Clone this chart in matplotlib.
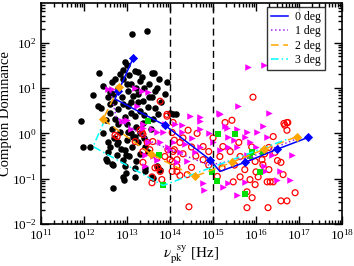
import numpy as np
import matplotlib
matplotlib.use('Agg')
import matplotlib.pyplot as plt
from matplotlib.ticker import LogLocator, NullFormatter

# values, stored as log10(nu) and log10(CD)
black_lx = [13.11, 13.46, 12.35, 12.95, 13.0, 13.19, 13.26, 13.63, 12.72, 12.84, 12.65, 12.44, 13.93,
            12.6, 12.67, 13.0, 13.02, 12.88, 13.14, 13.26, 13.65, 13.58, 13.37, 13.58, 11.93, 12.33,
            12.6, 12.79, 13.02, 13.26, 13.49, 13.72, 12.72, 12.95, 13.19, 13.37, 13.6, 12.65, 12.84,
            13.02, 13.19, 12.56, 12.79, 12.95, 13.12, 13.26, 13.42, 13.49, 12.77, 12.91, 12.56, 12.53,
            12.67, 12.95, 13.19, 13.42, 12.91, 13.58, 12.14, 14.07, 14.0, 14.13, 11.98, 12.51, 12.65,
            12.67, 12.98, 12.93, 13.19, 13.42, 13.6, 12.98, 12.77, 13.14, 13.09, 13.77, 13.7,
            12.9, 13.1, 13.2, 13.3, 13.4, 13.5, 12.8, 12.7, 12.9, 13.1, 13.3, 13.4, 13.5, 12.6, 12.8,
            13.0, 13.2, 13.1, 12.5, 12.45, 12.7, 13.0, 13.3, 13.4, 13.55, 12.6, 12.85, 13.05, 13.3,
            13.2, 12.4, 12.55, 13.7, 13.8, 13.65, 12.9, 13.05, 12.2, 13.35, 13.75, 13.88]
black_ly = [2.2, 2.27, 1.33, 1.58, 1.5, 1.38, 1.36, 1.33, 1.2, 1.31, 1.13, 1.04, 1.13,
            0.91, 0.87, 1.09, 0.93, 0.8, 0.82, 0.87, 0.93, 0.8, 0.71, 1.33, 0.27, 0.6,
            0.64, 0.53, 0.6, 0.69, 0.58, 0.42, 0.31, 0.36, 0.38, 0.24, 0.31, 0.09, 0.02,
            0.04, -0.07, -0.18, -0.2, -0.36, -0.29, -0.2, -0.29, -0.4, -0.47, -0.58, -0.42, -0.62,
            -0.69, -0.73, -0.76, -0.84, -0.96, -0.96, -0.31, 0.42, 0.45, 0.42, -0.31, -0.56, -0.67,
            -1.2, -0.87, -1.02, -0.96, -0.76, -0.98, -0.47, -0.24, -0.09, 0.0, -0.8, -0.73,
            1.2, 1.1, 1.0, 1.15, 1.0, 1.1, 1.0, 0.7, 0.65, 0.7, 0.5, 0.4, 0.8, 0.45, 0.2,
            0.2, 0.15, 0.45, 0.3, 0.0, -0.1, -0.15, 0.0, -0.1, 0.1, -0.3, -0.35, -0.5, -0.45,
            -0.6, 0.55, 0.8, 1.0, 0.7, 0.55, 1.4, 1.3, 0.85, 1.25, 1.2, 0.88]

red_lx = [15.93, 15.44, 14.07, 14.42, 14.63, 16.72, 16.67, 16.72, 16.4, 13.77, 13.93, 13.3, 12.72,
          13.35, 12.77, 13.37, 13.19, 13.47, 13.6, 13.37, 13.7, 13.88, 13.65, 13.77, 14.05, 13.95,
          14.07, 14.16, 14.05, 13.58, 14.05, 14.23, 14.0, 14.16, 14.4, 14.77, 14.77, 15.16, 15.23,
          15.28, 15.63, 15.74, 15.63, 15.86, 15.98, 16.05, 16.26, 16.16, 15.98, 15.47, 15.21, 14.44,
          15.79, 16.28, 16.58, 16.72, 16.91, 15.79, 15.91, 16.33, 16.65, 16.74, 16.3, 16.58, 16.44,
          16.3, 16.63, 16.4, 16.14, 13.53, 13.72, 13.81, 13.93, 14.1, 14.16, 14.23, 13.58, 13.37,
          14.3, 14.5, 14.6, 14.9, 15.0, 15.4, 15.6, 15.9, 16.0, 15.5, 14.3, 14.5, 14.1, 15.1, 16.5,
          16.2, 14.9]
red_ly = [0.8, 0.29, 0.24, 0.07, 0.0, 0.24, 0.18, 0.07, -0.07, 0.71, 0.42, 0.07, -0.04,
          0.02, -0.07, -0.02, -0.18, -0.2, -0.18, -0.4, -0.53, -0.51, -0.76, -0.84, -0.62, -0.36,
          -0.4, -0.58, -0.84, -0.96, 0.02, -0.2, -0.58, -0.84, -0.91, -0.29, -0.58, -0.51, -0.29,
          0.24, -0.51, -0.8, -0.96, -1.02, -1.13, -0.96, -1.07, -0.69, -0.62, -1.07, -0.76, -1.62,
          -1.64, -1.64, -1.49, -1.49, -1.31, -1.29, -1.42, -1.07, 0.22, 0.24, -0.31, -0.64, -0.42,
          -0.8, -0.91, -1.07, -0.58, -0.36, -0.76, -1.02, 0.38, -0.36, -0.73, -0.93, -1.09, -0.64,
          -0.1, -0.3, -0.5, -0.4, -0.1, -0.4, -0.2, -0.3, -0.85, -0.7, -0.45, -0.75, -0.15, -0.95,
          -0.6, -0.45, -0.7]

mag_lx = [15.81, 16.19, 15.58, 16.3, 15.14, 14.7, 14.28, 15.33, 15.79, 13.19, 13.35, 13.49, 12.95,
          13.23, 13.37, 13.58, 13.7, 13.84, 13.88, 13.42, 13.6, 13.42, 13.95, 14.12, 14.28, 14.47,
          14.7, 14.7, 15.16, 15.28, 15.35, 15.56, 15.74, 15.86, 16.02, 16.16, 16.26, 15.16, 15.35,
          15.56, 15.79, 14.07, 14.35, 14.23, 14.58, 14.7, 14.16, 14.77, 15.23, 15.74, 14.79, 15.35,
          16.37, 16.19, 15.56, 16.84, 16.79, 16.56, 16.49, 16.21, 12.88, 13.37, 13.49, 13.77, 13.7,
          14.0, 12.55, 12.65, 13.0, 13.1, 14.9, 15.0, 14.5, 15.5, 16.0, 14.4, 15.9]
mag_ly = [1.47, 1.51, 0.6, 0.44, 0.44, 0.36, 0.18, 0.13, 0.04, 1.0, 0.93, 0.91, 0.27,
          0.6, 0.2, 0.09, 0.02, 0.02, 0.2, -0.47, -0.51, -0.73, -0.31, 0.2, 0.02, 0.38,
          0.27, 0.09, 0.42, 0.16, -0.07, 0.09, -0.07, -0.2, 0.02, 0.16, -0.09, -0.36, -0.29,
          -0.31, -0.47, -0.2, -0.24, -0.42, -0.4, -0.29, -0.64, -1.09, -1.18, -1.07, -1.24, -1.09,
          -0.47, -0.73, -1.36, -0.47, -1.04, -0.84, -1.02, -0.84, 0.27, 0.13, -0.2, -0.18, -0.58,
          -0.36, 0.98, 0.98, 0.3, 0.1, 0.0, -0.2, -0.1, -0.15, -0.3, -0.6, -0.55]

green_lx = [13.84, 13.74, 13.49, 15.12, 15.51, 14.98, 15.09, 16.09, 15.91, 16.16, 15.74, 15.86]
green_ly = [-1.15, -0.47, 0.27, -0.02, -0.02, -0.86, -1.06, -0.86, -0.42, -0.42, -1.33, -0.51]

# model tracks
deg0_lx = [13.14, 12.72, 13.88, 14.93, 15.16, 15.74, 16.49, 17.21]
deg0_ly = [1.66, 0.76, 0.18, -0.58, -0.84, -0.64, -0.35, -0.09]
deg0_mark_lx = [13.14, 12.8, 13.88, 14.93, 15.74, 16.49, 17.21]
deg0_mark_ly = [1.66, 0.93, 0.18, -0.58, -0.64, -0.35, -0.09]

deg1_lx = [12.6, 12.75, 13.6, 14.9, 15.8, 16.6, 17.0]
deg1_ly = [1.0, 0.35, -0.2, -0.7, -0.55, -0.25, -0.1]

deg2_lx = [12.81, 12.44, 13.56, 14.58, 15.44, 16.19, 16.95]
deg2_ly = [1.02, 0.31, -0.46, -0.95, -0.64, -0.35, -0.07]

deg3_lx = [12.49, 12.21, 13.84, 16.72]
deg3_ly = [0.31, -0.29, -1.15, -0.13]

x_ticks = [1e11, 1e12, 1e13, 1e14, 1e15, 1e16, 1e17, 1e18]
y_ticks = [1e-2, 1e-1, 1e0, 1e1, 1e2]
vlines = [1e14, 1e15]


def p(v):
    return np.power(10.0, np.array(v))


plt.rcParams['font.family'] = ['Liberation Serif', 'DejaVu Serif']
plt.rcParams['mathtext.fontset'] = 'stix'

fig = plt.figure(figsize=(3.54, 2.66), dpi=100)
ax = fig.add_axes([0.116, 0.158, 0.85, 0.831])

ax.scatter(p(black_lx), p(black_ly), s=22, c='black', marker='o', linewidths=0, zorder=2)
ax.scatter(p(red_lx), p(red_ly), s=18, facecolors='none', edgecolors='red', marker='o',
           linewidths=0.9, zorder=3)
ax.scatter(p(mag_lx), p(mag_ly), s=22, c='magenta', marker='>', linewidths=0, zorder=3)
ax.scatter(p(green_lx), p(green_ly), s=16, c='#00e000', marker='s', linewidths=0, zorder=3)

for v in vlines:
    ax.axvline(v, color='black', ls=(0, (5, 3)), lw=1.0, zorder=4)

ax.plot(p(deg0_lx), p(deg0_ly), color='blue', lw=1.1, ls='-', label='0 deg', zorder=5)
ax.plot(p(deg1_lx), p(deg1_ly), color='#a020f0', lw=1.1, ls=':', label='1 deg', zorder=5)
ax.plot(p(deg2_lx), p(deg2_ly), color='orange', lw=1.1, ls=(0, (5, 3)), label='2 deg', zorder=5)
ax.plot(p(deg3_lx), p(deg3_ly), color='cyan', lw=1.1, ls=(0, (5, 2, 1, 2)), label='3 deg', zorder=5)
ax.scatter(p(deg0_mark_lx), p(deg0_mark_ly), s=22, c='blue', marker='D', linewidths=0, zorder=6)
ax.scatter(p(deg2_lx), p(deg2_ly), s=22, c='orange', marker='D', linewidths=0, zorder=6)

ax.set_xscale('log')
ax.set_yscale('log')
ax.set_xlim(1e11, 1e18)
ax.set_ylim(1e-2, 7.6e2)
ax.set_xticks(x_ticks)
ax.set_yticks(y_ticks)
ax.xaxis.set_minor_locator(LogLocator(base=10, subs=np.arange(2, 10), numticks=20))
ax.yaxis.set_minor_locator(LogLocator(base=10, subs=np.arange(2, 10), numticks=20))
ax.xaxis.set_minor_formatter(NullFormatter())
ax.yaxis.set_minor_formatter(NullFormatter())
ax.tick_params(which='both', direction='in', top=True, right=True, labelsize=9.5, width=1.0)
ax.tick_params(which='major', length=6)
ax.tick_params(which='minor', length=3)
ax.tick_params(axis='x', pad=3)
for s in ax.spines.values():
    s.set_linewidth(1.2)

ax.set_xlabel(r'$\nu_{\rm pk}^{\ \ \rm sy}$ [Hz]', fontsize=11)
ax.xaxis.set_label_coords(0.5, -0.088)
ax.set_ylabel('Compton Dominance', fontsize=10.5, labelpad=0)

leg = ax.legend(loc='upper right', bbox_to_anchor=(0.944, 0.982), fontsize=8.5,
                handlelength=1.4, frameon=True, fancybox=False, borderpad=0.35,
                labelspacing=0.2, handletextpad=0.6, borderaxespad=0.0)
leg.get_frame().set_edgecolor('black')
leg.get_frame().set_linewidth(1.0)

fig.savefig('out.png', dpi=100)
